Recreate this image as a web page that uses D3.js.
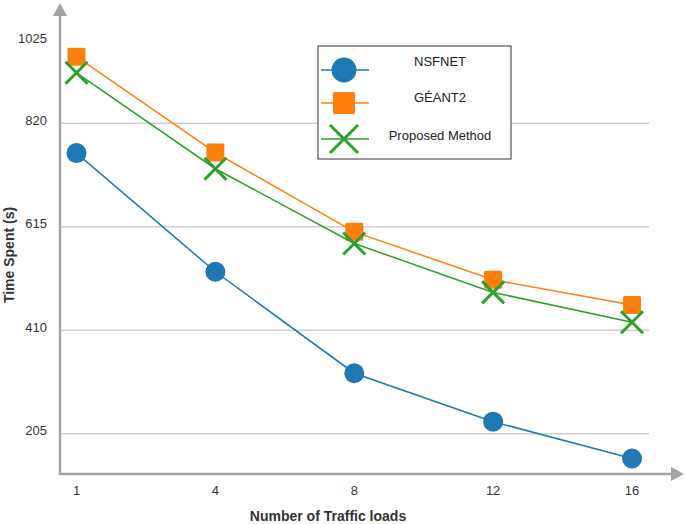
<!DOCTYPE html>
<html>
<head>
<meta charset="utf-8">
<script src="https://cdn.jsdelivr.net/npm/d3@7"></script>
<style>
  html, body { margin: 0; padding: 0; background: #fff; }
  svg { display: block; font-family: "Liberation Sans", Arial, sans-serif; }
</style>
</head>
<body>
<svg id="chart" width="685" height="524"></svg>
<script>
const categories = ["1", "4", "8", "12", "16"];
const nsfnet = [761, 526, 325, 229, 156];
const geant2 = [952, 762, 605, 510, 460];
const proposed = [920, 730, 582, 485, 426];
const yTicks = [205, 410, 615, 820, 1025];
const seriesNames = ["NSFNET", "GÉANT2", "Proposed Method"];

const series = [
  { name: seriesNames[0], values: nsfnet, color: "#1f77b4", marker: "circle" },
  { name: seriesNames[1], values: geant2, color: "#ff7f0e", marker: "square" },
  { name: seriesNames[2], values: proposed, color: "#2ca02c", marker: "cross" }
];

const svg = d3.select("#chart");
const axisColor = "#a3a3a3";
const gridColor = "#cfcfcf";

const x = d3.scalePoint().domain(categories).range([76.5, 632]);
const y = d3.scaleLinear().domain([205, 820]).range([433.8, 123.3]);

const plotLeft = 60, plotRight = 649, axisY = 474;

// gridlines (not for the top tick)
svg.append("g").selectAll("line")
  .data(yTicks.filter(t => t <= 820))
  .join("line")
  .attr("x1", plotLeft).attr("x2", plotRight)
  .attr("y1", d => y(d)).attr("y2", d => y(d))
  .attr("stroke", gridColor).attr("stroke-width", 1.5);

// Axes lines with arrows
svg.append("line").attr("x1", plotLeft).attr("x2", plotLeft)
  .attr("y1", axisY + 1).attr("y2", 12)
  .attr("stroke", axisColor).attr("stroke-width", 2.5);
svg.append("path")
  .attr("d", `M${plotLeft - 7},16 L${plotLeft},3 L${plotLeft + 7},16 Z`)
  .attr("fill", axisColor);
svg.append("line").attr("x1", plotLeft - 1).attr("x2", 676)
  .attr("y1", axisY).attr("y2", axisY)
  .attr("stroke", axisColor).attr("stroke-width", 2.5);
svg.append("path")
  .attr("d", `M671,${axisY - 7} L684,${axisY} L671,${axisY + 7} Z`)
  .attr("fill", axisColor);

// y tick labels
svg.append("g").selectAll("text")
  .data(yTicks)
  .join("text")
  .attr("x", 47)
  .attr("y", d => d === 1025 ? y(d) + 20 : y(d) - 2)
  .attr("text-anchor", "end")
  .attr("dominant-baseline", "middle")
  .attr("font-size", 13)
  .attr("fill", "#333")
  .text(d => d);

// x tick labels
svg.append("g").selectAll("text")
  .data(categories)
  .join("text")
  .attr("x", d => x(d))
  .attr("y", 492)
  .attr("text-anchor", "middle")
  .attr("dominant-baseline", "middle")
  .attr("font-size", 13)
  .attr("fill", "#333")
  .text(d => d);

// axis titles
svg.append("text")
  .attr("x", 328).attr("y", 517)
  .attr("text-anchor", "middle").attr("dominant-baseline", "middle")
  .attr("font-size", 14).attr("font-weight", "bold").attr("fill", "#333")
  .text("Number of Traffic loads");
svg.append("text")
  .attr("transform", "translate(10,255) rotate(-90)")
  .attr("text-anchor", "middle").attr("dominant-baseline", "middle")
  .attr("font-size", 14).attr("font-weight", "bold").attr("fill", "#333")
  .text("Time Spent (s)");

function drawMarker(g, type, cx, cy, color, size) {
  if (type === "circle") {
    g.append("circle").attr("cx", cx).attr("cy", cy).attr("r", size / 2).attr("fill", color);
  } else if (type === "square") {
    g.append("rect").attr("x", cx - size / 2).attr("y", cy - size / 2)
      .attr("width", size).attr("height", size).attr("rx", 1.5).attr("fill", color);
  } else {
    const h = size / 2;
    g.append("path")
      .attr("d", `M${cx - h},${cy - h} L${cx + h},${cy + h} M${cx - h},${cy + h} L${cx + h},${cy - h}`)
      .attr("stroke", color).attr("stroke-width", 3).attr("fill", "none");
  }
}

const line = d3.line().x((d, i) => x(categories[i])).y(d => y(d));

series.forEach(s => {
  const g = svg.append("g");
  g.append("path").datum(s.values)
    .attr("d", line).attr("fill", "none")
    .attr("stroke", s.color).attr("stroke-width", 1.5);
  const size = s.marker === "circle" ? 20 : s.marker === "square" ? 18 : 22;
  s.values.forEach((v, i) => drawMarker(g, s.marker, x(categories[i]), y(v), s.color, size));
});

// legend
const lg = svg.append("g");
lg.append("rect").attr("x", 318).attr("y", 46).attr("width", 193).attr("height", 113)
  .attr("fill", "#fff").attr("stroke", "#333").attr("stroke-width", 1);
const legendY = [70, 103, 139];
const textY = [63, 99, 137];
series.forEach((s, i) => {
  lg.append("line").attr("x1", 321).attr("x2", 369)
    .attr("y1", legendY[i]).attr("y2", legendY[i])
    .attr("stroke", s.color).attr("stroke-width", 1.5);
  const size = s.marker === "circle" ? 25 : s.marker === "square" ? 22 : 28;
  drawMarker(lg, s.marker, 344, legendY[i], s.color, size);
  lg.append("text").attr("x", 440).attr("y", textY[i])
    .attr("text-anchor", "middle").attr("dominant-baseline", "middle")
    .attr("font-size", 13).attr("fill", "#222")
    .text(s.name);
});
</script>
</body>
</html>
